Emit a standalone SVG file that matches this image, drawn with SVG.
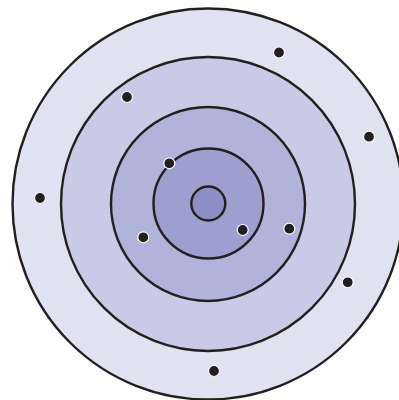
<svg xmlns="http://www.w3.org/2000/svg" width="399" height="400" viewBox="0 0 399 400">
<style>
.ring{stroke:#231f20;stroke-width:2.4}
.dot{fill:#231f20;stroke:#ffffff;stroke-width:1.2}
</style>
<rect width="399" height="400" fill="#ffffff"/>
<g id="rings">
<circle id="r1" class="ring" cx="208" cy="204" r="195.5" fill="#e0e1f1"/>
<circle id="r2" class="ring" cx="208" cy="204" r="147" fill="#c9cae6"/>
<circle id="r3" class="ring" cx="208" cy="204" r="97" fill="#b1b3da"/>
<circle id="r4" class="ring" cx="208.5" cy="203.5" r="55" fill="#9d9fce"/>
<circle id="r5" class="ring" cx="208.3" cy="203.5" r="17" fill="#8c8fc6"/>
</g>
<g id="dots">
<circle class="dot" cx="279" cy="52.5" r="5.5"/>
<circle class="dot" cx="127" cy="97" r="5.5"/>
<circle class="dot" cx="369" cy="136.7" r="5.5"/>
<circle class="dot" cx="40" cy="198" r="5.5"/>
<circle class="dot" cx="169.3" cy="163.3" r="5.5"/>
<circle class="dot" cx="143.3" cy="237.3" r="5.5"/>
<circle class="dot" cx="242.7" cy="230" r="5.5"/>
<circle class="dot" cx="289.3" cy="228.7" r="5.5"/>
<circle class="dot" cx="347.7" cy="282.3" r="5.5"/>
<circle class="dot" cx="214" cy="371" r="5.5"/>
</g>
</svg>
